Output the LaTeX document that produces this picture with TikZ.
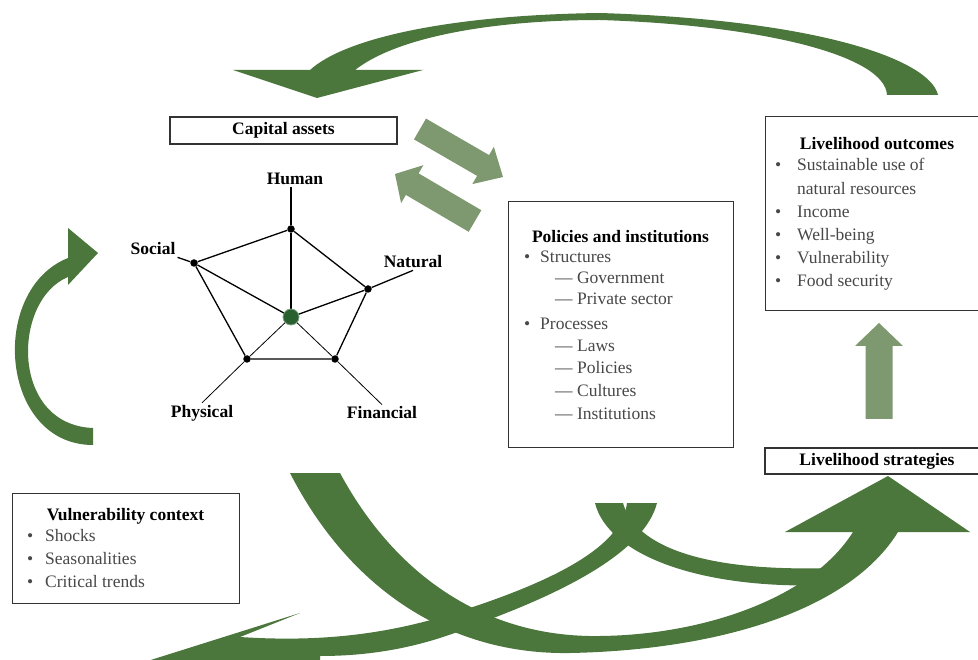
\documentclass[tikz,border=0pt]{standalone}
\usepackage{fontspec}
\setmainfont{Liberation Serif}
\usetikzlibrary{calc,positioning}

\definecolor{darkleaf}{RGB}{75,118,60}
\definecolor{paleleaf}{RGB}{126,152,111}
\definecolor{dotgreen}{RGB}{42,96,48}
\definecolor{itemgray}{RGB}{72,72,72}

\tikzset{
  box/.style={draw=black!80, line width=1.4pt, fill=white, inner sep=0pt,
    font=\fontsize{17.5}{22}\selectfont\bfseries},
  title/.style={font=\fontsize{17.5}{22}\selectfont\bfseries, inner sep=0pt, anchor=base},
  item/.style={font=\fontsize{17.5}{22}\selectfont, text=itemgray, inner sep=0pt, anchor=base west},
  asset/.style={font=\fontsize{17.5}{22}\selectfont\bfseries, inner sep=2pt},
  dot/.style={circle, fill=black, inner sep=0pt, minimum size=7.5pt},
  hub/.style={circle, fill=dotgreen, draw=dotgreen!60!white, line width=0.8pt, inner sep=0pt, minimum size=16pt},
  spoke/.style={line width=1.3pt},
  thinspoke/.style={line width=0.8pt}
}

% bullet of a given width
\newcommand{\bul}[1][18pt]{\makebox[#1][l]{\textbullet}}

% straight fat arrow: tail, tip, half shaft, half head, head length
\newcommand{\fatarrow}[5]{%
  \coordinate (fa-h) at ($(#2)!#5!(#1)$);
  \fill[paleleaf] ($(#1)!#3!90:(#2)$) -- ($(fa-h)!#3!90:(#2)$) -- ($(fa-h)!#4!90:(#2)$) -- (#2)
    -- ($(fa-h)!#4!-90:(#2)$) -- ($(fa-h)!#3!-90:(#2)$) -- ($(#1)!#3!-90:(#2)$) -- cycle;
}

\begin{document}
\begin{tikzpicture}[x=1pt,y=-1pt]
\useasboundingbox (0,0) rectangle (978,660);
\clip (0,0) rectangle (978,660);
\fill[white] (0,0) rectangle (978,660);

% outcomes back to capital assets
\fill[darkleaf] (938,95) .. controls (930,60) and (820,20) .. (600,13)
  .. controls (450,15) and (345,38) .. (310,70) -- (233,70) -- (317,98) -- (423,70) -- (355,70)
  .. controls (400,35) and (500,20) .. (600,20)
  .. controls (760,25) and (885,55) .. (887,95) -- cycle;

% vulnerability up to capital assets
\fill[darkleaf] (93,445) .. controls (0,445) and (-12,290) .. (68,258) -- (68,228) -- (98,253)
  -- (68,285) -- (68,277) .. controls (12,300) and (10,425) .. (93,428) -- cycle;

% capital assets down to strategies
\fill[darkleaf] (290,473) .. controls (350,590) and (450,655) .. (570,653)
  .. controls (720,650) and (850,610) .. (898,532) -- (970,532) -- (888,476) -- (785,532) -- (853,532)
  .. controls (810,600) and (700,635) .. (600,636)
  .. controls (485,638) and (395,575) .. (340,473) -- cycle;

% policies down to vulnerability
\fill[darkleaf] (627,503) .. controls (622,545) and (560,578) .. (470,608)
  .. controls (400,632) and (330,643) .. (240,637) -- (300,613) -- (138,664) -- (320,664)
  -- (320,656) .. controls (390,656) and (440,640) .. (480,623)
  .. controls (570,590) and (645,550) .. (657,503) -- cycle;

% policies down to strategies
\fill[darkleaf] (595,503) -- (623,503) .. controls (635,545) and (700,572) .. (830,568)
  -- (830,585) .. controls (700,590) and (608,555) .. (595,503) -- cycle;

% pale arrows
\coordinate (cap-out) at (420,129); \coordinate (pol-in) at (503,177);
\coordinate (pol-out) at (475,221); \coordinate (cap-in) at (395,174);
\coordinate (str-out) at (879,419); \coordinate (out-in) at (879,323);
\fatarrow{cap-out}{pol-in}{12pt}{21.5pt}{23pt}
\fatarrow{pol-out}{cap-in}{12.5pt}{22pt}{20pt}
\fatarrow{str-out}{out-in}{13.5pt}{24pt}{23pt}

% capital assets pentagon
\node[box, minimum width=227pt, minimum height=27pt] (capital) at (283.5,130.5) {Capital assets};

\node[asset] (lhum) at (295,179) {Human};
\node[asset] (lsoc) at (153,249) {Social};
\node[asset] (lnat) at (413,262) {Natural};
\node[asset] (lphy) at (202,413) {Physical};
\node[asset] (lfin) at (382,413) {Financial};

\node[dot] (hum) at (291,229) {};
\node[dot] (soc) at (194,263) {};
\node[dot] (nat) at (368,289) {};
\node[dot] (phy) at (247,359) {};
\node[dot] (fin) at (335,359) {};

\draw[spoke] (hum) -- (hum |- lhum.south);
\draw[spoke] (soc) -- (lsoc.south east);
\draw[spoke] (nat) -- (lnat.south);
\draw[thinspoke] (phy) -- (lphy.north);
\draw[thinspoke] (fin) -- (lfin.north);

\draw[spoke] (hum) -- (soc) -- (phy) -- (fin) -- (nat) -- (hum);

\coordinate (ctr) at (291,317);
\draw[spoke] (ctr) -- (hum);
\draw[spoke] (ctr) -- (soc);
\draw[spoke] (ctr) -- (nat);
\draw[thinspoke] (ctr) -- (phy);
\draw[thinspoke] (ctr) -- (fin);
\node[hub] (hub) at (ctr) {};

% policies and institutions
\node[box, minimum width=225pt, minimum height=246pt, anchor=north west] (policies) at (508,201) {};
\node[title] (poltitle) at (620.5,243) {Policies and institutions};
\foreach \txt/\yy [count=\i] in {Structures/263, Processes/330}
  \node[item] (polhead\i) at (524,\yy) {\bul[16pt]\txt};
\foreach \txt/\yy [count=\i] in {Government/284, Private sector/305, Laws/352,
    Policies/374, Cultures/397, Institutions/420}
  \node[item] (polsub\i) at (555,\yy) {---\ \txt};

% livelihood outcomes
\node[box, minimum width=224pt, minimum height=194pt, anchor=north west] (outcomes) at (765,116) {};
\node[title] (outtitle) at (877,150) {Livelihood outcomes};
\foreach \txt/\yy [count=\i] in {Sustainable use of/171, Income/217.4, Well-being/240.6,
    Vulnerability/263.8, Food security/287}
  \node[item] (out\i) at (775,\yy) {\bul[22pt]\txt};
\node[item] (outwrap) at (797,194.2) {natural resources};

% livelihood strategies
\node[box, minimum width=224pt, minimum height=26pt] (strategies) at (877,461) {Livelihood strategies};

% vulnerability context
\node[box, minimum width=227pt, minimum height=110pt, anchor=north west] (vulner) at (12,493) {};
\node[title] (vultitle) at (125.5,520) {Vulnerability context};
\foreach \txt/\yy [count=\i] in {Shocks/541, Seasonalities/564, Critical trends/587}
  \node[item] (vul\i) at (27,\yy) {\bul[18pt]\txt};

\end{tikzpicture}
\end{document}
